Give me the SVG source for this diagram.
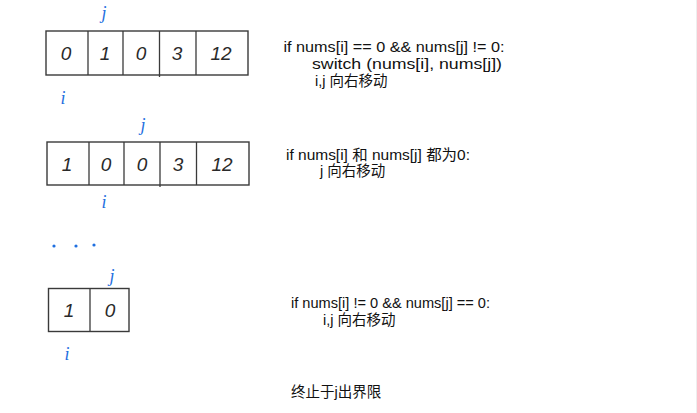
<svg xmlns="http://www.w3.org/2000/svg" width="697" height="413" viewBox="0 0 697 413">
<style>
.box{fill:none;stroke:#3a3a3a;stroke-width:1.4}
.div{stroke:#3a3a3a;stroke-width:1.3}
.dig{font-family:"Liberation Sans",sans-serif;font-size:19px;fill:#2a2a2a;text-anchor:middle;font-style:italic}
.idx{font-family:"Liberation Serif",serif;font-size:18px;fill:#1f6fe0;font-style:italic;text-anchor:middle}
.t{font-family:"Liberation Sans","Noto Sans CJK SC",sans-serif;font-size:14.5px;fill:#111}
.dot{fill:#1f6fe0}
</style>
<rect width="697" height="413" fill="#fff"/>
<line x1="696.5" y1="0" x2="696.5" y2="413" stroke="#eeeeee" stroke-width="1"/>

<g id="array1">
<rect class="box" x="46" y="31" width="202" height="44"/>
<line class="div" x1="88" y1="31" x2="88" y2="75"/>
<line class="div" x1="123" y1="31" x2="123" y2="75"/>
<line class="div" x1="159.5" y1="31" x2="159.5" y2="77"/>
<line class="div" x1="196" y1="31" x2="196" y2="75"/>
<text class="dig" x="66" y="60">0</text>
<text class="dig" x="105" y="60">1</text>
<text class="dig" x="141" y="60">0</text>
<text class="dig" x="177" y="60">3</text>
<text class="dig" x="221" y="60">12</text>
<text class="idx" x="104" y="19">j</text>
<text class="idx" x="63" y="104">i</text>
</g>

<g id="array2">
<rect class="box" x="47" y="142" width="202" height="43"/>
<line class="div" x1="89" y1="142" x2="89" y2="185"/>
<line class="div" x1="124" y1="142" x2="124" y2="185"/>
<line class="div" x1="160" y1="142" x2="160" y2="187"/>
<line class="div" x1="196.5" y1="142" x2="196.5" y2="185"/>
<text class="dig" x="67" y="171">1</text>
<text class="dig" x="106" y="171">0</text>
<text class="dig" x="142" y="171">0</text>
<text class="dig" x="178" y="171">3</text>
<text class="dig" x="222" y="171">12</text>
<text class="idx" x="143" y="131">j</text>
<text class="idx" x="104" y="208">i</text>
</g>

<g id="ellipsis">
<circle class="dot" cx="54" cy="246" r="1.6"/>
<circle class="dot" cx="76" cy="246" r="1.6"/>
<circle class="dot" cx="94" cy="245" r="1.6"/>
</g>

<g id="array3">
<rect class="box" x="48.5" y="288.5" width="80.5" height="43"/>
<line class="div" x1="90" y1="288.5" x2="90" y2="331.5"/>
<text class="dig" x="69" y="317">1</text>
<text class="dig" x="110" y="317">0</text>
<text class="idx" x="112" y="282">j</text>
<text class="idx" x="67" y="360">i</text>
</g>

<g id="text1">
<text class="t" x="283.5" y="52" textLength="221" lengthAdjust="spacingAndGlyphs">if nums[i] == 0 &amp;&amp; nums[j] != 0:</text>
<text class="t" x="312" y="69" textLength="190" lengthAdjust="spacingAndGlyphs">switch (nums[i], nums[j])</text>
<text class="t" x="315" y="86">i,j 向右移动</text>
</g>

<g id="text2">
<text class="t" x="286" y="160" textLength="184" lengthAdjust="spacingAndGlyphs">if nums[i] 和 nums[j] 都为0:</text>
<text class="t" x="320" y="176">j 向右移动</text>
</g>

<g id="text3">
<text class="t" x="291" y="308" textLength="199" lengthAdjust="spacingAndGlyphs">if nums[i] != 0 &amp;&amp; nums[j] == 0:</text>
<text class="t" x="323" y="325">i,j 向右移动</text>
</g>

<g id="text4">
<text class="t" x="291" y="397">终止于j出界限</text>
</g>
</svg>
